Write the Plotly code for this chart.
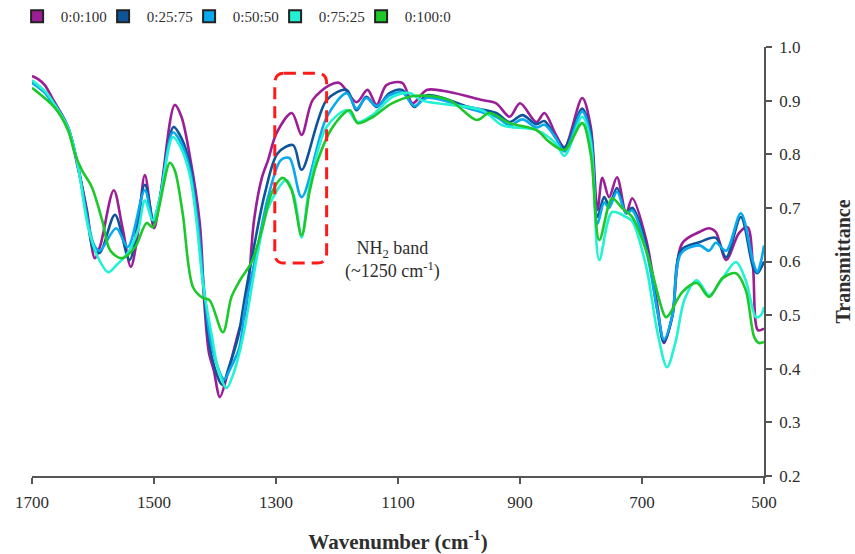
import plotly.graph_objects as go

# FTIR transmittance spectra for the five blend ratios (wavenumber in cm^-1)
wn_0_0_100 = [1700, 1690, 1679, 1667, 1641, 1625, 1610, 1597, 1588, 1566, 1552, 1538, 1528, 1515, 1500, 1490, 1466,
              1455, 1441, 1425, 1417, 1410, 1402, 1392, 1381, 1368, 1359, 1351, 1344, 1336, 1323, 1313, 1299, 1274,
              1258, 1240, 1212, 1196, 1168, 1150, 1135, 1119, 1093, 1076, 1053, 1016, 962, 939, 917, 900, 873, 860,
              841, 827, 798, 784, 773, 765, 754, 741, 726, 716, 693, 675, 664, 650, 634, 606, 590, 579, 562, 541, 527,
              518, 510, 500]
tr_0_0_100 = [0.946, 0.940, 0.929, 0.905, 0.851, 0.776, 0.696, 0.606, 0.630, 0.733, 0.665, 0.590, 0.640, 0.761, 0.662,
              0.720, 0.892, 0.870, 0.795, 0.672, 0.515, 0.430, 0.397, 0.347, 0.384, 0.440, 0.478, 0.500, 0.571, 0.677,
              0.757, 0.789, 0.840, 0.877, 0.836, 0.901, 0.929, 0.933, 0.897, 0.920, 0.892, 0.929, 0.933, 0.895, 0.920,
              0.916, 0.901, 0.895, 0.870, 0.895, 0.860, 0.877, 0.836, 0.813, 0.905, 0.851, 0.696, 0.756, 0.720, 0.757,
              0.690, 0.718, 0.640, 0.520, 0.448, 0.500, 0.634, 0.655, 0.662, 0.655, 0.603, 0.653, 0.664, 0.590, 0.472,
              0.475]

wn_0_25_75 = [1700, 1679, 1667, 1641, 1625, 1610, 1600, 1589, 1564, 1540, 1515, 1500, 1490, 1468, 1455, 1441, 1428,
              1418, 1405, 1388, 1378, 1362, 1351, 1335, 1318, 1297, 1272, 1258, 1217, 1184, 1168, 1152, 1135, 1114,
              1093, 1073, 1053, 983, 939, 917, 896, 873, 860, 841, 827, 798, 784, 773, 762, 754, 741, 726, 716, 693,
              675, 664, 650, 636, 606, 579, 562, 538, 518, 511, 500]
tr_0_25_75 = [0.935, 0.915, 0.900, 0.850, 0.780, 0.690, 0.625, 0.616, 0.687, 0.603, 0.743, 0.672, 0.720, 0.851, 0.830,
              0.780, 0.672, 0.540, 0.420, 0.370, 0.400, 0.460, 0.534, 0.634, 0.728, 0.802, 0.817, 0.771, 0.901, 0.920,
              0.882, 0.907, 0.888, 0.914, 0.920, 0.888, 0.910, 0.888, 0.877, 0.860, 0.873, 0.856, 0.862, 0.830, 0.812,
              0.885, 0.840, 0.683, 0.720, 0.705, 0.737, 0.690, 0.700, 0.630, 0.510, 0.450, 0.500, 0.621, 0.636, 0.644,
              0.608, 0.683, 0.590, 0.578, 0.600]

wn_0_50_50 = [1700, 1679, 1667, 1641, 1625, 1610, 1598, 1589, 1562, 1543, 1515, 1502, 1490, 1469, 1455, 1441, 1428,
              1418, 1405, 1385, 1375, 1360, 1351, 1332, 1313, 1292, 1278, 1258, 1217, 1184, 1168, 1152, 1135, 1114,
              1093, 1073, 1053, 983, 939, 917, 896, 873, 860, 841, 827, 798, 784, 773, 762, 754, 741, 726, 716, 693,
              675, 664, 650, 636, 606, 590, 579, 562, 538, 518, 511, 505, 500]
tr_0_50_50 = [0.933, 0.915, 0.895, 0.850, 0.780, 0.685, 0.630, 0.620, 0.662, 0.627, 0.733, 0.677, 0.720, 0.841, 0.820,
              0.770, 0.670, 0.550, 0.440, 0.380, 0.400, 0.440, 0.510, 0.616, 0.720, 0.789, 0.793, 0.720, 0.869, 0.914,
              0.885, 0.905, 0.890, 0.910, 0.915, 0.890, 0.905, 0.885, 0.870, 0.854, 0.865, 0.850, 0.855, 0.830, 0.805,
              0.880, 0.830, 0.670, 0.710, 0.700, 0.730, 0.690, 0.695, 0.620, 0.510, 0.455, 0.500, 0.615, 0.630, 0.620,
              0.635, 0.620, 0.690, 0.600, 0.580, 0.600, 0.630]

wn_0_75_25 = [1700, 1679, 1667, 1641, 1625, 1608, 1592, 1575, 1560, 1543, 1526, 1515, 1502, 1490, 1469, 1455, 1441,
              1430, 1420, 1405, 1395, 1381, 1370, 1360, 1351, 1330, 1313, 1283, 1270, 1258, 1245, 1217, 1184, 1166,
              1142, 1109, 1081, 1060, 962, 929, 873, 841, 827, 798, 784, 770, 749, 726, 716, 693, 675, 659, 645, 630,
              610, 590, 570, 546, 530, 513, 505, 500]
tr_0_75_25 = [0.938, 0.918, 0.900, 0.850, 0.780, 0.664, 0.608, 0.580, 0.595, 0.616, 0.659, 0.714, 0.677, 0.720, 0.832,
              0.810, 0.760, 0.672, 0.560, 0.460, 0.400, 0.364, 0.390, 0.430, 0.478, 0.616, 0.700, 0.752, 0.720, 0.645,
              0.740, 0.851, 0.882, 0.860, 0.873, 0.907, 0.914, 0.900, 0.882, 0.854, 0.845, 0.820, 0.797, 0.870, 0.820,
              0.603, 0.692, 0.683, 0.675, 0.590, 0.470, 0.403, 0.450, 0.530, 0.565, 0.537, 0.565, 0.599, 0.565, 0.496,
              0.500, 0.515]

wn_0_100_0 = [1700, 1662, 1641, 1630, 1618, 1602, 1585, 1572, 1553, 1531, 1512, 1502, 1474, 1466, 1453, 1436, 1420,
              1409, 1387, 1373, 1359, 1340, 1323, 1307, 1289, 1275, 1258, 1245, 1233, 1207, 1179, 1166, 1142, 1110,
              1070, 1016, 971, 950, 917, 873, 852, 827, 798, 784, 770, 749, 733, 716, 693, 661, 656, 634, 610, 590,
              568, 546, 530, 516, 508, 500]
tr_0_100_0 = [0.924, 0.886, 0.845, 0.802, 0.770, 0.739, 0.677, 0.621, 0.606, 0.627, 0.672, 0.664, 0.784, 0.770, 0.690,
              0.552, 0.532, 0.528, 0.468, 0.534, 0.565, 0.599, 0.659, 0.728, 0.756, 0.735, 0.649, 0.730, 0.784, 0.851,
              0.882, 0.858, 0.869, 0.895, 0.909, 0.901, 0.864, 0.877, 0.858, 0.845, 0.823, 0.808, 0.858, 0.800, 0.640,
              0.718, 0.700, 0.683, 0.620, 0.496, 0.500, 0.543, 0.560, 0.534, 0.569, 0.578, 0.547, 0.459, 0.448, 0.450]

series_names = ["0:0:100", "0:25:75", "0:50:50", "0:75:25", "0:100:0"]
series_wn = [wn_0_0_100, wn_0_25_75, wn_0_50_50, wn_0_75_25, wn_0_100_0]
series_tr = [tr_0_0_100, tr_0_25_75, tr_0_50_50, tr_0_75_25, tr_0_100_0]
series_colors = ["#9B1E96", "#0E5499", "#08A9EE", "#22F2D2", "#1DC92A"]

x_ticks = [1700, 1500, 1300, 1100, 900, 700, 500]
y_ticks = [0.2, 0.3, 0.4, 0.5, 0.6, 0.7, 0.8, 0.9, 1.0]

FONT = "Liberation Serif"
TXT = "#2E2E2E"
NBSP = "\u00a0"

fig = go.Figure()

for name, wn, tr, col in zip(series_names, series_wn, series_tr, series_colors):
    fig.add_trace(go.Scatter(
        x=wn, y=tr, mode="lines", name=name, showlegend=False,
        line=dict(color=col, width=2.6, shape="spline", smoothing=0.9),
    ))

# square swatches for the legend
for name, col in zip(series_names, series_colors):
    fig.add_trace(go.Scatter(
        x=[None], y=[None], mode="markers", name=NBSP + name,
        marker=dict(symbol="square", size=14, color=col, line=dict(color="#222222", width=1.5)),
    ))
# blank trailing entry so the last label is not cut off by the legend box
fig.add_trace(go.Scatter(
    x=[None], y=[None], mode="markers", name=NBSP, hoverinfo="skip",
    marker=dict(symbol="square", size=1, color="rgba(0,0,0,0)", opacity=0),
))

# dashed rounded box around the NH2 band
L, R, T, B = 1302, 1217, 0.951, 0.597
dx, dy = 15, 0.019
box_path = (f"M {L - dx},{T} L {R + dx},{T} Q {R},{T} {R},{T - dy} "
            f"L {R},{B + dy} Q {R},{B} {R + dx},{B} "
            f"L {L - dx},{B} Q {L},{B} {L},{B + dy} "
            f"L {L},{T - dy} Q {L},{T} {L - dx},{T} Z")
fig.add_shape(type="path", path=box_path, xref="x", yref="y",
              line=dict(color="#FF1A1A", width=3, dash="12px,7px"))

fig.add_annotation(
    x=1109, y=0.603, xref="x", yref="y", showarrow=False,
    text="NH<sub>2</sub> band<br>(~1250 cm<sup>-1</sup>)",
    font=dict(family=FONT, size=18, color=TXT), align="center",
)

fig.update_layout(
    width=855, height=554,
    margin=dict(l=32, r=91, t=47, b=78, autoexpand=False),
    paper_bgcolor="white", plot_bgcolor="white",
    font=dict(family=FONT, size=17, color=TXT),
    legend=dict(
        orientation="h", xref="container", yref="container",
        x=0.02, y=1.0, xanchor="left", yanchor="top",
        font=dict(family=FONT, size=15, color=TXT),
        entrywidth=41, entrywidthmode="pixels",
        itemsizing="constant",
    ),
    xaxis=dict(
        range=[1700, 500], tickvals=x_ticks, ticktext=[str(v) for v in x_ticks],
        showgrid=False, zeroline=False, showline=True, linecolor="#555555", linewidth=1.5,
        ticks="outside", ticklen=6, tickcolor="#555555", tickwidth=1.5,
        tickfont=dict(family=FONT, size=17, color=TXT), ticklabelstandoff=4,
        title=dict(text="<b>Wavenumber (cm<sup>-1</sup>)</b>", standoff=26,
                   font=dict(family=FONT, size=21, color=TXT)),
    ),
    yaxis=dict(
        range=[0.2, 1.0], side="right", tickvals=y_ticks, ticktext=[f"{v:.1f}" for v in y_ticks],
        showgrid=False, zeroline=False, showline=True, linecolor="#555555", linewidth=1.5,
        ticks="outside", ticklen=6, tickcolor="#555555", tickwidth=1.5,
        tickfont=dict(family=FONT, size=17, color=TXT), ticklabelstandoff=4,
        title=dict(text="<b>Transmittance</b>", standoff=36,
                   font=dict(family=FONT, size=20, color=TXT)),
    ),
)

fig.write_html("out.html")
